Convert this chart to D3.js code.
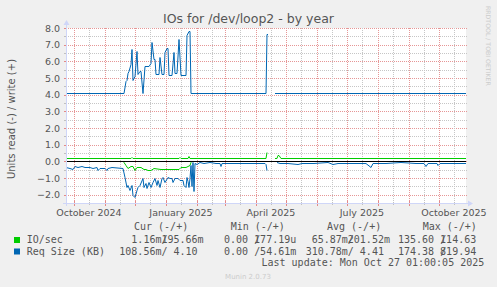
<!DOCTYPE html>
<meta charset="utf-8">
<style>
body { margin: 0; background: #f0f0f0; }
svg { display: block; }
text { font-family: 'DejaVu Sans', sans-serif; fill: #555; }
.mono { font-family: 'DejaVu Sans Mono', monospace; font-size: 10px; white-space: pre; }
.minor { stroke: #c6c6c6; stroke-dasharray: 1,1; shape-rendering: crispEdges; }
.major { stroke: #e69696; stroke-dasharray: 1,1; shape-rendering: crispEdges; }
.tick-minor { stroke: #c0c0c0; shape-rendering: crispEdges; }
.tick-major { stroke: #e48888; shape-rendering: crispEdges; }
.axis { stroke: #cfd6f8; shape-rendering: crispEdges; }
.series { fill: none; stroke-width: 1; }
</style>
<svg width="497" height="287"></svg>
<script src="https://d3js.org/d3.v7.min.js"></script>
<script>
// time span: 400 days ending at last update
var startDate = new Date(2024, 8, 23, 1, 0, 5),
    spanDays = 400;

// IO/sec write (+), points as [day offset from startDate]
var ioWriteDay = [0, 57, 65, 66, 67, 113, 114, 115, 122, 123, 124, 199, 200, 201, 202, 209, 211, 212, 213, 215, 400];
var ioWriteVal = [0.2, 0.2, 0.2, 0.28, 0.2, 0.2, 0.26, 0.2, 0.2, 0.32, 0.2, 0.2, 0.2, 0.56, null, 0.2, 0.2, 0.38, 0.38, 0.2, 0.2];

// IO/sec read (-)
var ioReadDay = [0, 57, 58, 60, 62, 65, 67, 69, 71, 75, 78, 80, 82, 85, 88, 95, 100, 113, 115, 120, 124, 125, 126, 201, 202, 209, 400];
var ioReadVal = [0.005, 0.005, 0.02, 0.22, 0.42, 0.28, 0.3, 0.52, 0.36, 0.32, 0.48, 0.46, 0.52, 0.5, 0.42, 0.44, 0.48, 0.48, 0.36, 0.34, 0.22, 0.02, 0.005, 0.005, null, 0.005, 0.005];

// Req Size (KB) write (+)
var reqWriteDay = [0, 58, 60, 61, 62, 63, 65, 66, 67, 68, 69, 71, 72, 74, 75, 77, 79, 81, 83, 85, 86, 88, 89, 90, 93, 94, 96, 98, 99, 101, 102, 103, 106, 108, 109, 111, 113, 115, 120, 121, 123, 124, 125, 200, 201, 202, 203, 209, 400];
var reqWriteVal = [4.1, 4.1, 4.85, 4.9, 5.3, 5.45, 5.85, 6.75, 4.9, 5.0, 5.1, 6.6, 5.25, 5.45, 5.4, 4.1, 5.75, 5.75, 5.7, 5.9, 7.15, 6.15, 6.15, 5.25, 5.25, 6.25, 5.25, 5.25, 6.55, 6.8, 6.8, 5.2, 5.2, 6.55, 5.3, 5.3, 7.35, 5.2, 5.2, 7.6, 7.8, 7.8, 4.1, 4.1, 7.65, 7.65, null, 4.1, 4.1];

// Req Size (KB) read (-)
var reqReadDay = [0, 4, 7, 9, 12, 16, 19, 24, 27, 31, 32, 34, 39, 41, 42, 46, 57, 59, 61, 62, 64, 66, 67, 69, 71, 72, 74, 77, 78, 80, 81, 83, 85, 87, 89, 91, 92, 94, 96, 97, 99, 102, 104, 106, 107, 109, 112, 114, 117, 118, 120, 121, 122, 123, 124, 125, 126, 127, 128, 129, 131, 134, 138, 144, 150, 154, 155, 156, 165, 175, 185, 195, 199, 200, 201, 202, 211, 214, 222, 232, 236, 248, 262, 267, 272, 285, 300, 305, 307, 320, 335, 350, 358, 360, 362, 371, 372, 374, 385, 400];
var reqReadVal = [0.36, 0.4, 0.46, 0.3, 0.36, 0.28, 0.34, 0.36, 0.4, 0.36, 0.52, 0.38, 0.38, 0.5, 0.38, 0.36, 0.38, 0.92, 1.52, 1.4, 1.72, 1.42, 2.02, 2.12, 1.72, 1.52, 1.42, 1.02, 1.52, 1.32, 1.62, 1.22, 1.52, 1.22, 1.02, 1.42, 1.12, 1.52, 1.02, 0.92, 1.22, 0.92, 0.98, 1.0, 1.22, 1.0, 1.02, 1.1, 1.12, 1.42, 1.52, 0.92, 1.2, 1.55, 1.0, 0.2, 1.5, 0.05, 1.75, 0.1, 0.16, 0.04, 0.08, 0.06, 0.1, 0.12, 0.3, 0.1, 0.08, 0.12, 0.08, 0.12, 0.1, 0.15, 0.5, null, 0.02, 0.08, 0.1, 0.16, 0.08, 0.1, 0.06, 0.16, 0.08, 0.1, 0.08, 0.36, 0.08, 0.1, 0.06, 0.1, 0.08, 0.28, 0.1, 0.08, 0.2, 0.08, 0.1, 0.08];

var yTicks = [-2, -1, 0, 1, 2, 3, 4, 5, 6, 7, 8];
var xLabelMonths = ["2024-10-01", "2025-01-01", "2025-04-01", "2025-07-01", "2025-10-01"];

var legendNames = ["IO/sec", "Req Size (KB)"];
var legendColors = ["#00cc00", "#0066b3"];
var statHeads = ["Cur (-/+)", "Min (-/+)", "Avg (-/+)", "Max (-/+)"];
var ioStats = [["  1.16m/", "195.66m"], ["  0.00 /", "177.19u"], [" 65.87m/", "201.52m"], ["135.60 /", "114.63 "]];
var reqStats = [["108.56m/", "  4.10 "], ["  0.00 /", " 54.61m"], ["310.78m/", "  4.41 "], ["174.38 /", "819.94 "]];
var lastUpdate = "Last update: Mon Oct 27 01:00:05 2025";

var svg = d3.select("svg"),
    plotLeft = 66, plotTop = 28, plotW = 400, plotH = 175;

var endDate = d3.timeDay.offset(startDate, spanDays);
var x = d3.scaleTime().domain([startDate, endDate]).range([plotLeft, plotLeft + plotW]);
var y = d3.scaleLinear().domain([-2.5, 8]).range([plotTop + plotH, plotTop]);

function px(v) { return Math.round(v) + 0.5; }

svg.append("rect").attr("width", 497).attr("height", 287).attr("fill", "#f0f0f0");
svg.append("rect").attr("x", plotLeft).attr("y", plotTop).attr("width", plotW).attr("height", plotH).attr("fill", "#fff");

// horizontal grid
var hLines = d3.range(-2.5, 8.01, 0.5);
svg.append("g").selectAll("line").data(hLines).enter().append("line")
    .attr("class", function(d) { return d % 1 === 0 ? "major" : "minor"; })
    .attr("x1", plotLeft).attr("x2", plotLeft + plotW + 2)
    .attr("y1", function(d) { return px(y(d)); })
    .attr("y2", function(d) { return px(y(d)); });

// vertical grid: month starts (major), mid-month (minor)
var months = d3.timeMonth.range(d3.timeMonth.ceil(startDate), endDate);
var mids = d3.timeMonth.range(d3.timeMonth.floor(startDate), endDate)
    .map(function(d) { return d3.timeDay.offset(d, 15); })
    .filter(function(d) { return d > startDate && d < endDate; });

var vg = svg.append("g");
vg.selectAll(".minor").data(mids).enter().append("line")
    .attr("class", "minor")
    .attr("x1", function(d) { return px(x(d)); }).attr("x2", function(d) { return px(x(d)); })
    .attr("y1", plotTop).attr("y2", plotTop + plotH);
vg.selectAll(".major").data(months).enter().append("line")
    .attr("class", "major")
    .attr("x1", function(d) { return px(x(d)); }).attr("x2", function(d) { return px(x(d)); })
    .attr("y1", plotTop).attr("y2", plotTop + plotH);

// series
function pts(days, vals, sign) {
  return days.map(function(d, i) {
    return {date: d3.timeDay.offset(startDate, d), v: vals[i] == null ? null : sign * vals[i]};
  });
}
var line = d3.line()
    .defined(function(d) { return d.v != null; })
    .x(function(d) { return x(d.date); })
    .y(function(d) { return Math.round(y(d.v)) + 0.5; });

var series = [
  {p: pts(ioReadDay, ioReadVal, -1), c: legendColors[0]},
  {p: pts(ioWriteDay, ioWriteVal, 1), c: legendColors[0]},
  {p: pts(reqReadDay, reqReadVal, -1), c: legendColors[1]},
  {p: pts(reqWriteDay, reqWriteVal, 1), c: legendColors[1]}
];
svg.append("g").selectAll("path").data(series).enter().append("path")
    .attr("class", "series")
    .attr("stroke", function(d) { return d.c; })
    .attr("d", function(d) { return line(d.p); });

// zero line
svg.append("line").attr("x1", plotLeft).attr("x2", plotLeft + plotW)
    .attr("y1", px(y(0))).attr("y2", px(y(0)))
    .attr("stroke", "#000").style("shape-rendering", "crispEdges");

// axis ticks
var ax = svg.append("g");
ax.selectAll(".tm").data(mids).enter().append("line")
    .attr("class", "tick-minor")
    .attr("x1", function(d) { return px(x(d)); }).attr("x2", function(d) { return px(x(d)); })
    .attr("y1", plotTop + plotH - 1).attr("y2", plotTop + plotH + 2);
ax.selectAll(".tM").data(months).enter().append("line")
    .attr("class", "tick-major")
    .attr("x1", function(d) { return px(x(d)); }).attr("x2", function(d) { return px(x(d)); })
    .attr("y1", plotTop + plotH - 2).attr("y2", plotTop + plotH + 3);
ax.selectAll(".ty").data(hLines).enter().append("line")
    .attr("class", function(d) { return d % 1 === 0 ? "tick-major" : "tick-minor"; })
    .attr("x1", plotLeft - 2).attr("x2", plotLeft + 1)
    .attr("y1", function(d) { return px(y(d)); })
    .attr("y2", function(d) { return px(y(d)); });

// axes with arrows
var ay = plotTop + plotH;
svg.append("line").attr("class", "axis").attr("x1", plotLeft - 3).attr("x2", plotLeft + plotW + 3)
    .attr("y1", ay + 0.5).attr("y2", ay + 0.5);
svg.append("line").attr("class", "axis").attr("x1", plotLeft + 0.5).attr("x2", plotLeft + 0.5)
    .attr("y1", ay + 3).attr("y2", plotTop - 4);
svg.append("path").attr("fill", "#cfd6f8")
    .attr("d", "M" + (plotLeft + plotW + 2) + "," + (ay - 2.5) + "L" + (plotLeft + plotW + 7) + "," + (ay + 0.5) + "L" + (plotLeft + plotW + 2) + "," + (ay + 3.5) + "Z");
svg.append("path").attr("fill", "#cfd6f8")
    .attr("d", "M" + (plotLeft - 2.5) + "," + (plotTop - 3) + "L" + (plotLeft + 0.5) + "," + (plotTop - 8) + "L" + (plotLeft + 3.5) + "," + (plotTop - 3) + "Z");

// tick labels
svg.append("g").selectAll("text").data(yTicks).enter().append("text")
    .attr("x", plotLeft - 6).attr("y", function(d) { return y(d) + 3.5; })
    .attr("text-anchor", "end").style("font-size", "9.5px")
    .text(function(d) { return d3.format(".1f")(d); });

var parse = d3.timeParse("%Y-%m-%d"), fmt = d3.timeFormat("%B %Y");
svg.append("g").selectAll("text").data(xLabelMonths).enter().append("text")
    .attr("x", function(d) { return x(d3.timeDay.offset(parse(d), 15)); })
    .attr("y", 216).attr("text-anchor", "middle").style("font-size", "9.5px")
    .text(function(d) { return fmt(parse(d)); });

// titles
svg.append("text").attr("x", 248.5).attr("y", 23).attr("text-anchor", "middle")
    .style("font-size", "12.5px").text("IOs for /dev/loop2 - by year");
svg.append("text").attr("transform", "translate(14.5,119) rotate(-90)")
    .attr("text-anchor", "middle").style("font-size", "10px")
    .text("Units read (-) / write (+)");
svg.append("text").attr("transform", "translate(485.5,6) rotate(90)")
    .style("font-size", "6.2px").style("fill", "#ccc")
    .text("RRDTOOL / TOBI OETIKER");
svg.append("text").attr("x", 248).attr("y", 279).attr("text-anchor", "middle")
    .style("font-size", "7px").style("fill", "#ccc").text("Munin 2.0.73");

// legend
var headX = [134, 230.7, 327, 422.7], fieldX = [119.3, 212, 305.7, 398], rowY = [243, 254.5];
svg.append("g").selectAll("text").data(statHeads).enter().append("text")
    .attr("class", "mono").attr("x", function(d, i) { return headX[i]; }).attr("y", 230)
    .text(function(d) { return d; });

[ioStats, reqStats].forEach(function(stats, r) {
  svg.append("rect").attr("x", 14).attr("y", rowY[r] - 6).attr("width", 6).attr("height", 6)
      .attr("fill", legendColors[r]);
  svg.append("text").attr("class", "mono").attr("x", 26.7).attr("y", rowY[r]).text(legendNames[r]);
  stats.forEach(function(s, i) {
    svg.append("text").attr("class", "mono").attr("x", fieldX[i]).attr("y", rowY[r]).text(s[0]);
    svg.append("text").attr("class", "mono").attr("x", fieldX[i] + 42.1).attr("y", rowY[r]).text(s[1]);
  });
});
svg.append("text").attr("class", "mono").attr("x", 261.5).attr("y", 266).text(lastUpdate);
</script>
